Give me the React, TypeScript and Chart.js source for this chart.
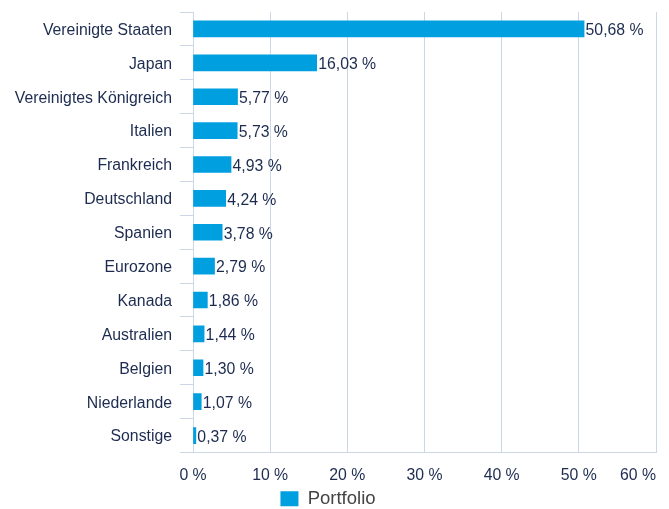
import React, { useEffect, useRef } from 'react';
import { Chart, registerables } from 'chart.js';

Chart.register(...registerables);

const categories = [
  'Vereinigte Staaten',
  'Japan',
  'Vereinigtes Königreich',
  'Italien',
  'Frankreich',
  'Deutschland',
  'Spanien',
  'Eurozone',
  'Kanada',
  'Australien',
  'Belgien',
  'Niederlande',
  'Sonstige',
];
const portfolio = [50.68, 16.03, 5.77, 5.73, 4.93, 4.24, 3.78, 2.79, 1.86, 1.44, 1.3, 1.07, 0.37];
const xTicks = [0, 10, 20, 30, 40, 50, 60];
const seriesName = 'Portfolio';

const FONT = '"Liberation Sans", Arial, Helvetica, sans-serif';
const NAVY = '#1c2b4f';
const GRID = '#cbd6e6';
const BLUE = '#009fe0';
const FS = 15.8;

const fmt = (v: number) => v.toFixed(2).replace('.', ',') + ' %';

const labelsPlugin = {
  id: 'customLabels',
  afterDatasetsDraw(chart: any) {
    const ctx = chart.ctx;
    const meta = chart.getDatasetMeta(0);
    ctx.save();
    ctx.font = `${FS}px ${FONT}`;
    ctx.fillStyle = NAVY;
    ctx.textAlign = 'left';
    ctx.textBaseline = 'middle';
    meta.data.forEach((el: any, i: number) => {
      ctx.fillText(fmt(portfolio[i]), el.x + 1.5, el.y + 2);
    });
    const xs = chart.scales.x;
    const area = chart.chartArea;
    xTicks.forEach((v) => {
      const t = `${v} %`;
      const w = ctx.measureText(t).width;
      const cx = xs.getPixelForValue(v);
      let left = cx - w / 2;
      if (left + w > area.right) left = area.right - w;
      ctx.fillText(t, left, area.bottom + 23);
    });
    ctx.restore();
  },
};

export default function App() {
  const ref = useRef<HTMLCanvasElement | null>(null);
  useEffect(() => {
    if (!ref.current) return;
    const chart = new Chart(ref.current, {
      type: 'bar',
      data: {
        labels: categories,
        datasets: [
          {
            label: seriesName,
            data: portfolio,
            backgroundColor: BLUE,
            borderWidth: 0,
            barThickness: 16,
          },
        ],
      },
      options: {
        indexAxis: 'y',
        responsive: false,
        animation: false,
        layout: { padding: { top: 12, right: 13, left: 0, bottom: 0 } },
        scales: {
          x: {
            type: 'linear',
            min: 0,
            max: 60,
            ticks: { display: false, stepSize: 10 },
            grid: { color: GRID, drawTicks: false, lineWidth: 1 },
            border: { display: true, color: GRID, width: 1 },
            afterFit: (s: any) => {
              s.height = 27;
              s.paddingLeft = 0;
              s.paddingRight = 0;
            },
          },
          y: {
            ticks: { font: { family: FONT, size: FS }, color: NAVY, padding: 8, labelOffset: 1.5 },
            grid: { offset: true, drawOnChartArea: false, drawTicks: true, tickLength: 13, color: GRID },
            border: { display: true, color: GRID, width: 1 },
            afterFit: (s: any) => {
              s.width = 193;
              s.paddingTop = 0;
              s.paddingBottom = 0;
            },
          },
        },
        plugins: {
          legend: {
            position: 'bottom',
            labels: {
              boxWidth: 18,
              boxHeight: 15,
              font: { family: FONT, size: 18.5 },
              color: '#444444',
              padding: 10,
            },
          },
          tooltip: { enabled: false },
        },
      } as any,
      plugins: [labelsPlugin],
    });
    return () => chart.destroy();
  }, []);
  return (
    <div style={{ position: 'fixed', left: 0, top: 0, width: 669, height: 509, overflow: 'hidden', background: '#fff' }}>
      <canvas ref={ref} width={669} height={518} style={{ display: 'block' }} />
    </div>
  );
}
